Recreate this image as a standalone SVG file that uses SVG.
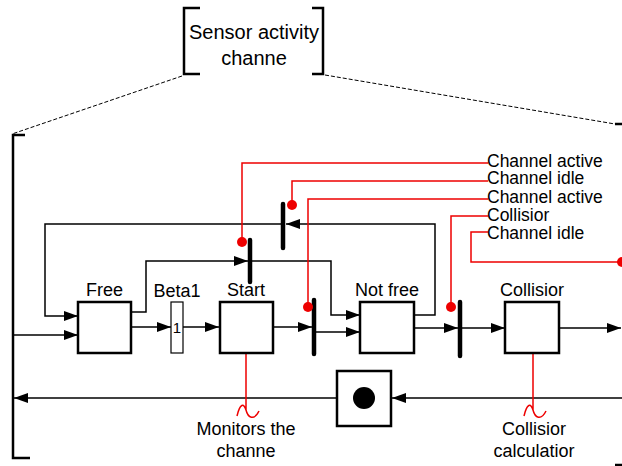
<svg xmlns="http://www.w3.org/2000/svg" width="622" height="466" viewBox="0 0 622 466">
<defs>
<style>
text{font-family:"Liberation Sans",Arial,sans-serif;font-size:18px;fill:#000}
.t{font-size:20px}
.c{text-anchor:middle}
.r{font-size:17.5px}
.box{fill:#fff;stroke:#000;stroke-width:2.5}
.ln{fill:none;stroke:#000;stroke-width:1.5}
.br{fill:none;stroke:#000;stroke-width:2.5}
.bar{stroke:#000;stroke-width:4.5;stroke-linecap:round}
.rl{fill:none;stroke:#e00;stroke-width:1.5}
.dot{fill:#e00}
.dash{fill:none;stroke:#000;stroke-width:1;stroke-dasharray:4 2}
</style>
<marker id="a" viewBox="0 0 14 10" refX="14" refY="5" markerWidth="14" markerHeight="10" markerUnits="userSpaceOnUse" orient="auto"><path d="M0,0L14,5L0,10z" fill="#000"/></marker>
</defs>
<g id="title">
<path class="br" d="M200,8H184V74H200M312,8H323V74H312"/>
<text class="t c" x="254" y="39">Sensor activity</text>
<text class="t c" x="254" y="65">channe</text>
</g>
<g id="frame">
<path class="dash" d="M182,76L12,134M325,75L615,124"/>
<path class="br" d="M25,135H13V458H30"/>
<path class="br" d="M615,124H622M615,465H622"/>
</g>
<g id="connectors">
<path class="ln" d="M13,335H78" marker-end="url(#a)"/>
<path class="ln" d="M414,315H435V224H286" marker-end="url(#a)"/>
<path class="ln" d="M283,224H45V316H78" marker-end="url(#a)"/>
<path class="ln" d="M131,312H146V261H248" marker-end="url(#a)"/>
<path class="ln" d="M250,261H331V315H360" marker-end="url(#a)"/>
<path class="ln" d="M131,327H171" marker-end="url(#a)"/>
<path class="ln" d="M183,327H219" marker-end="url(#a)"/>
<path class="ln" d="M273,327H312" marker-end="url(#a)"/>
<path class="ln" d="M314,332H360" marker-end="url(#a)"/>
<path class="ln" d="M414,328H458" marker-end="url(#a)"/>
<path class="ln" d="M460,328H505" marker-end="url(#a)"/>
<path class="ln" d="M559,328H621" marker-end="url(#a)"/>
<path class="ln" d="M622,398H392" marker-end="url(#a)"/>
<path class="ln" d="M337,398H14" marker-end="url(#a)"/>
<path class="rl" d="M242,242V163H488"/>
<path class="rl" d="M292,205V181H488"/>
<path class="rl" d="M308,307V199H488"/>
<path class="rl" d="M451,307V216H488"/>
<path class="rl" d="M488,232H471V262H622"/>
<path class="rl" d="M246,353V410M237,416C240,403 244,403 246,410C248,418 254,421 259,411"/>
<path class="rl" d="M533,353V410M524,416C527,403 531,403 533,410C535,418 541,421 546,411"/>
</g>
<g id="bars">
<line class="bar" x1="250" y1="240" x2="250" y2="282"/>
<line class="bar" x1="283" y1="204" x2="283" y2="248"/>
<line class="bar" x1="314" y1="300" x2="314" y2="354"/>
<line class="bar" x1="460" y1="302" x2="460" y2="356"/>
<circle class="dot" cx="242" cy="242" r="5"/>
<circle class="dot" cx="292" cy="205" r="5"/>
<circle class="dot" cx="308" cy="307" r="5"/>
<circle class="dot" cx="451" cy="307" r="5"/>
<circle class="dot" cx="622" cy="262" r="5"/>
</g>
<g id="free"><rect class="box" x="78" y="302" width="53" height="51"/><text class="c" x="104.5" y="296">Free</text></g>
<g id="beta1"><rect x="171" y="302" width="12" height="51" fill="#fff" stroke="#000" stroke-width="1.2"/><text class="c" x="177" y="297">Beta1</text><text class="c" x="177" y="333" style="font-size:15px">1</text></g>
<g id="start"><rect class="box" x="220" y="302" width="53" height="51"/><text class="c" x="246" y="296">Start</text></g>
<g id="notfree"><rect class="box" x="360" y="302" width="54" height="51"/><text class="c" x="387" y="296">Not free</text></g>
<g id="collision"><rect class="box" x="505" y="302" width="54" height="51"/><text class="c" x="532" y="296">Collisior</text></g>
<g id="token"><rect class="box" x="337" y="371" width="54" height="55"/><circle cx="364" cy="398" r="11" fill="#000"/></g>
<g id="labels">
<text class="r" x="487" y="167">Channel active</text>
<text class="r" x="487" y="184">Channel idle</text>
<text class="r" x="487" y="203">Channel active</text>
<text class="r" x="487" y="221">Collisior</text>
<text class="r" x="487" y="239">Channel idle</text>
<text class="c" x="246" y="435">Monitors the</text>
<text class="c" x="246" y="457">channe</text>
<text class="c" x="534" y="435">Collisior</text>
<text class="c" x="534" y="457">calculatior</text>
</g>
</svg>
